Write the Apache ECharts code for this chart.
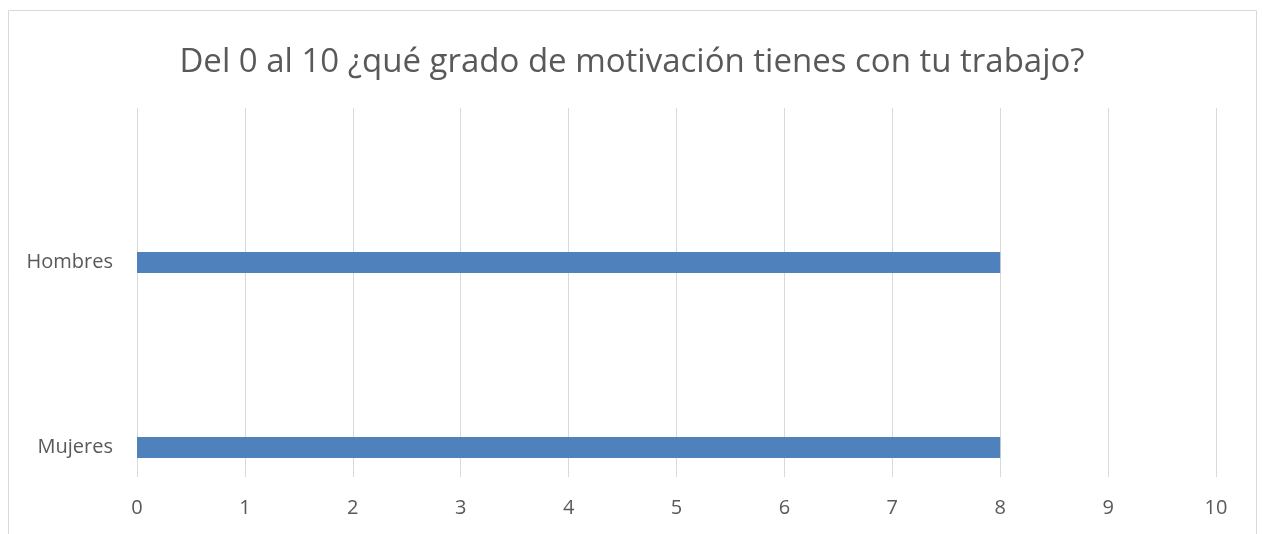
<!DOCTYPE html>
<html>
<head>
<meta charset="utf-8">
<script src="https://cdn.jsdelivr.net/npm/echarts@6/dist/echarts.min.js"></script>
<style>
  html, body { margin: 0; padding: 0; background: #fff; }
  #chart { width: 1264px; height: 534px; }
</style>
</head>
<body>
<div id="chart"></div>
<script>
// datos
var categorias = ['Mujeres', 'Hombres'];
var valores = [8, 8];
var ejeMin = 0, ejeMax = 10, ejePaso = 1;
var titulo = 'Del 0 al 10 ¿qué grado de motivación tienes con tu trabajo?';

var chart = echarts.init(document.getElementById('chart'));
var gris = '#595959';
var option = {
  animation: false,
  textStyle: { fontFamily: 'Open Sans' },
  title: {
    text: titulo,
    left: 'center',
    top: 41,
    textStyle: { fontSize: 33, fontWeight: 'normal', color: gris, fontFamily: 'Open Sans' }
  },
  graphic: [{
    type: 'rect',
    shape: { x: 8.5, y: 10.5, width: 1248, height: 560 },
    style: { fill: 'none', stroke: '#d9d9d9', lineWidth: 1 },
    silent: true
  }],
  grid: [
    // rejilla con las lineas verticales y etiquetas del eje x
    { left: 137, right: 48, top: 108, height: 369, outerBoundsMode: 'none' },
    // rejilla de las barras
    { left: 137, right: 48, top: 170, height: 370, outerBoundsMode: 'none' }
  ],
  xAxis: [{
    gridIndex: 0,
    type: 'value',
    min: ejeMin, max: ejeMax, interval: ejePaso,
    axisLine: { show: false },
    axisTick: { show: false },
    axisLabel: { color: gris, fontSize: 20, margin: 21 },
    splitLine: { show: true, lineStyle: { color: '#d9d9d9', width: 1 } }
  }, {
    gridIndex: 1,
    type: 'value',
    min: ejeMin, max: ejeMax, interval: ejePaso,
    show: false
  }],
  yAxis: [{
    gridIndex: 0,
    type: 'category',
    data: categorias,
    show: false
  }, {
    gridIndex: 1,
    type: 'category',
    data: categorias,
    axisLine: { show: false },
    axisTick: { show: false },
    axisLabel: { color: gris, fontSize: 20, margin: 24 }
  }],
  series: [{
    type: 'bar',
    xAxisIndex: 1,
    yAxisIndex: 1,
    data: valores,
    barWidth: 21,
    itemStyle: { color: '#4f81bd' }
  }]
};
chart.setOption(option);
</script>
</body>
</html>
